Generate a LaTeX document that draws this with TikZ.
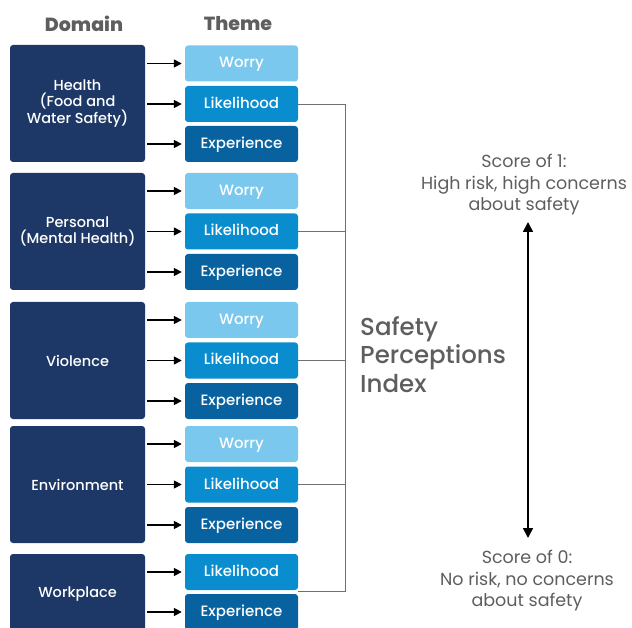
\documentclass[tikz,border=0pt]{standalone}
\usepackage{fontspec}
\setmainfont{Poppins}
\newfontfamily\medfont{Poppins Medium}
\newfontfamily\heavyfont{Poppins ExtraBold}
\usetikzlibrary{arrows.meta}
\definecolor{navy}{HTML}{1D3867}
\definecolor{worryblue}{HTML}{7AC8EE}
\definecolor{likelyblue}{HTML}{098DCE}
\definecolor{expblue}{HTML}{0862A0}
\definecolor{textgray}{HTML}{5E5E5E}
\definecolor{linegray}{HTML}{707070}
\begin{document}
\begin{tikzpicture}[x=1pt,y=-1pt,
  domainbox/.style={fill=navy, rounded corners=3pt, minimum width=135, align=center,
    text=white, inner sep=0pt, font=\medfont\fontsize{14.5}{16}\selectfont},
  themebox/.style={rounded corners=3pt, minimum width=113, minimum height=36,
    text=white, inner sep=0pt, text height=11pt, text depth=2pt,
    font=\medfont\fontsize{15}{16}\selectfont},
  worrybox/.style={themebox, fill=worryblue},
  likelybox/.style={themebox, fill=likelyblue},
  expbox/.style={themebox, fill=expblue},
  heading/.style={text=textgray, font=\heavyfont\fontsize{19}{22}\selectfont},
  feed/.style={-{Triangle[length=8pt,width=8pt]}, line width=1.6pt, black,
    shorten <=2pt, shorten >=3pt},
  conn/.style={draw=linegray, line width=0.9pt},
  scaletext/.style={text=textgray, align=center, font=\fontsize{17.5}{21.5}\selectfont},
  scalearrow/.style={{Triangle[length=10pt,width=10pt]}-{Triangle[length=10pt,width=10pt]},
    line width=1.6pt, black}]
\useasboundingbox (0,0) rectangle (632,628);
\clip (0,0) rectangle (632,628);

% column headings
\node[heading] (hdomain) at (84,24) {Domain};
\node[heading] (htheme) at (238,24) {Theme};

% domains
\node[domainbox, minimum height=117] (d1) at (77.5,103.5) {Health\\(Food and\\Water Safety)};
\node[domainbox, minimum height=117] (d2) at (77.5,231.5) {Personal\\(Mental Health)};
\node[domainbox, minimum height=117] (d3) at (77.5,360.5) {Violence};
\node[domainbox, minimum height=117] (d4) at (77.5,484.5) {Environment};
\node[domainbox, minimum height=80] (d5) at (77.5,594) {Workplace};

% themes
\node[worrybox]  (w1) at (241.5,63.5) {Worry};
\node[likelybox] (l1) at (241.5,104) {Likelihood};
\node[expbox]    (e1) at (241.5,144) {Experience};

\node[worrybox]  (w2) at (241.5,191) {Worry};
\node[likelybox] (l2) at (241.5,231.5) {Likelihood};
\node[expbox]    (e2) at (241.5,272) {Experience};

\node[worrybox]  (w3) at (241.5,320) {Worry};
\node[likelybox] (l3) at (241.5,360.5) {Likelihood};
\node[expbox]    (e3) at (241.5,401) {Experience};

\node[worrybox]  (w4) at (241.5,444) {Worry};
\node[likelybox] (l4) at (241.5,484.5) {Likelihood};
\node[expbox]    (e4) at (241.5,525) {Experience};

\node[likelybox] (l5) at (241.5,572) {Likelihood};
\node[expbox]    (e5) at (241.5,612) {Experience};

% domain -> theme arrows
\foreach \d/\t in {d1/w1,d1/l1,d1/e1,d2/w2,d2/l2,d2/e2,d3/w3,d3/l3,d3/e3,
                   d4/w4,d4/l4,d4/e4,d5/l5,d5/e5}
  \draw[feed] (\d.east |- \t.west) -- (\t.west);

% likelihood bus into the index
\coordinate (bus) at (345,0);
\coordinate (j5) at (298,591);
\draw[conn] (l1.east) -- (l1.east -| bus) -- (j5 -| bus) -- (j5);
\draw[conn] (l2.east) -- (l2.east -| bus);
\draw[conn] (l3.east) -- (l3.east -| bus);
\draw[conn] (l4.east) -- (l4.east -| bus);

% index label
\node[anchor=north west, align=left, text=textgray, inner sep=0pt,
  font=\medfont\fontsize{24.5}{28.5}\selectfont] (spi) at (360,316) {Safety\\Perceptions\\Index};

% score scale
\node[scaletext] (top) at (524,185) {Score of 1:\\High risk, high concerns\\about safety};
\node[scaletext] (bot) at (527,581) {Score of 0:\\No risk, no concerns\\about safety};
\coordinate (s1) at (528,222);
\coordinate (s0) at (528,538);
\draw[scalearrow] (s0) -- (s1);
\end{tikzpicture}
\end{document}
